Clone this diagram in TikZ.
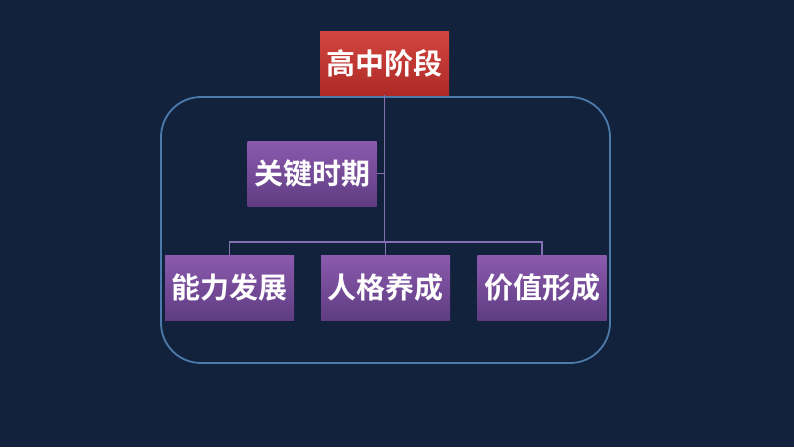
\documentclass[tikz,border=0pt]{standalone}
\usepackage{fontspec}
\newfontfamily\cjk{Noto Sans CJK SC}[BoldFont={Noto Sans CJK SC Bold}]
\usetikzlibrary{positioning}
\definecolor{bgnavy}{HTML}{12223D}
\definecolor{redtop}{HTML}{D2453F}
\definecolor{redbot}{HTML}{AE2A27}
\definecolor{purtop}{HTML}{8B5AAE}
\definecolor{purbot}{HTML}{5F3C82}
\definecolor{linkcol}{HTML}{8570B4}
\definecolor{framecol}{HTML}{4C7AAA}
\tikzset{
  topbox/.style={rectangle, top color=redtop, bottom color=redbot, minimum width=129pt, minimum height=64pt, inner sep=0pt, text=white, font=\cjk\bfseries\fontsize{29}{31}\selectfont},
  subbox/.style={rectangle, top color=purtop, bottom color=purbot, minimum width=129pt, minimum height=65pt, inner sep=0pt, text=white, font=\cjk\bfseries\fontsize{29}{31}\selectfont},
  link/.style={draw=linkcol, line width=1.5pt}
}
\begin{document}
\begin{tikzpicture}[x=1pt, y=-1pt]
    \fill[bgnavy] (0,0) rectangle (794,447);
    \useasboundingbox (0,0) rectangle (794,447);
    % frame round the lower part
    \draw[framecol, line width=1.8pt, rounded corners=40pt] (161,97) rectangle (610,363);

    \node[topbox] (stage) at (384.5,63) {高中阶段};
    \node[subbox] (key) at (312,173.5) {关键时期};
    \node[subbox] (ability) at (229.5,287.5) {能力发展};
    \node[subbox] (person) at (385.5,287.5) {人格养成};
    \node[subbox] (value) at (542,287.5) {价值形成};

    \coordinate (fork) at (stage.south |- 0,242);
    \coordinate (tap) at (stage.south |- key.east);
    \draw[link] (stage.south) -- (fork);
    \draw[link] (key.east) -- (tap);
    \draw[link] (ability.north) |- (fork) -| (value.north);
    \draw[link] (person.north) -- (person.north |- fork);
\end{tikzpicture}
\end{document}
